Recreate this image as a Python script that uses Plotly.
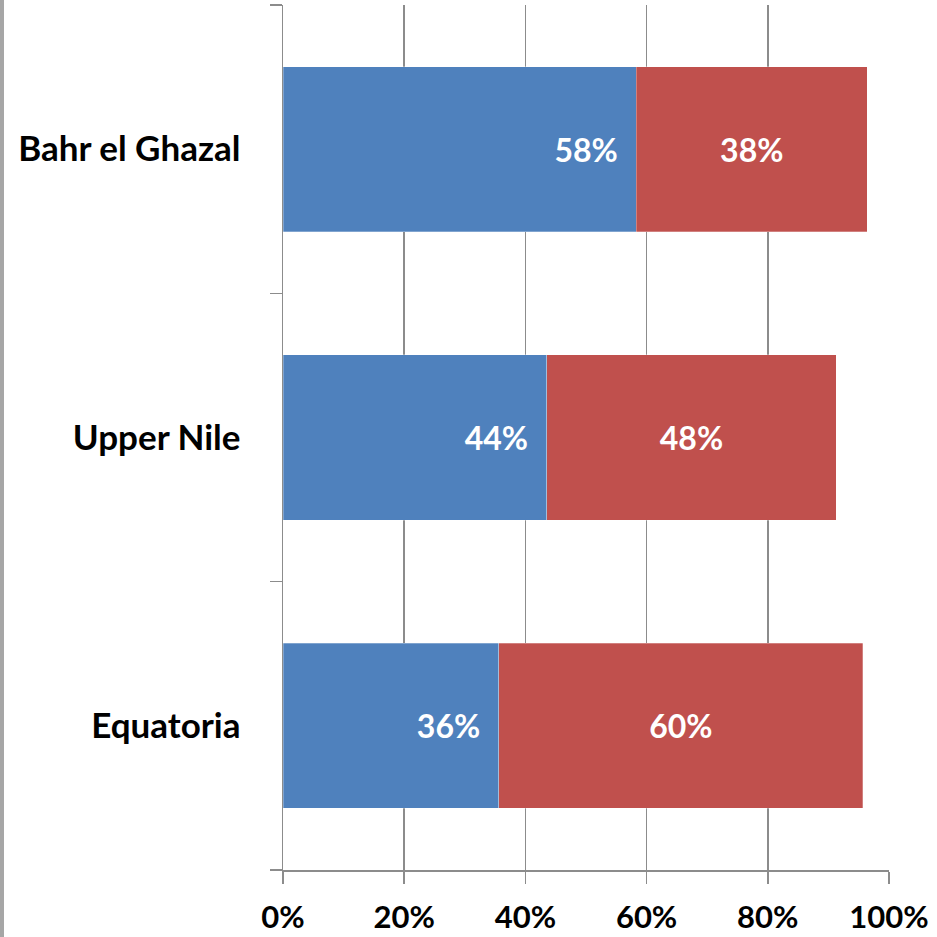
import plotly.graph_objects as go

categories = ["Equatoria", "Upper Nile", "Bahr el Ghazal"]  # bottom to top
blue_values = [0.356, 0.435, 0.583]
red_values = [0.601, 0.478, 0.381]
blue_labels = ["36%", "44%", "58%"]
red_labels = ["60%", "48%", "38%"]
x_tickvals = [0, 0.2, 0.4, 0.6, 0.8, 1.0]
x_ticktext = ["0%", "20%", "40%", "60%", "80%", "100%"]

BLUE = "#4F81BD"
RED = "#C0504D"
GRID = "#8c8c8c"
FONT = "Lato"

W, H = 937, 937
ML, MR, MT, MB = 283, 48, 5, 67

fig = go.Figure()
fig.add_trace(go.Bar(
    y=categories, x=blue_values, orientation="h",
    marker=dict(color=BLUE, line=dict(color="rgba(255,255,255,0.35)", width=0.8)),
    text=[t + "\u00a0\u00a0" for t in blue_labels],
    textposition="inside", insidetextanchor="end", textangle=0,
    constraintext="none",
    insidetextfont=dict(family=FONT, size=32, color="white", weight="bold"),
    showlegend=False, hoverinfo="skip",
))
fig.add_trace(go.Bar(
    y=categories, x=red_values, orientation="h",
    marker=dict(color=RED, line=dict(color="rgba(255,255,255,0.35)", width=0.8)),
    text=red_labels,
    textposition="inside", insidetextanchor="middle", textangle=0,
    constraintext="none",
    insidetextfont=dict(family=FONT, size=32, color="white", weight="bold"),
    showlegend=False, hoverinfo="skip",
))

fig.update_layout(
    barmode="stack",
    bargap=0.427,
    width=W, height=H,
    margin=dict(l=ML, r=MR, t=MT, b=MB, pad=0, autoexpand=False),
    paper_bgcolor="white", plot_bgcolor="white",
    font=dict(family=FONT, size=32, color="black", weight="bold"),
    xaxis=dict(
        range=[0, 1.0], tickvals=x_tickvals, ticktext=x_ticktext,
        showgrid=True, gridcolor=GRID, gridwidth=1.5,
        showline=True, linecolor=GRID, linewidth=1.5,
        ticks="outside", ticklen=12, tickcolor=GRID, tickwidth=1.5,
        zeroline=False, ticklabelstandoff=7, automargin=False,
        tickfont=dict(family=FONT, size=31, color="black", weight="bold"),
        fixedrange=True,
    ),
    yaxis=dict(
        type="category", categoryorder="array", categoryarray=categories,
        range=[-0.5, 2.5], tickson="boundaries",
        showgrid=False, zeroline=False,
        showline=True, linecolor=GRID, linewidth=1.5,
        ticks="outside", ticklen=12, tickcolor=GRID, tickwidth=1.5,
        ticklabelstandoff=34, automargin=False,
        tickfont=dict(family=FONT, size=35, color="black", weight="bold"),
        fixedrange=True,
    ),
    shapes=[dict(
        type="rect", xref="paper", yref="paper",
        x0=-ML / (W - ML - MR), x1=-(ML - 4) / (W - ML - MR),
        y0=-MB / (H - MT - MB), y1=1 + MT / (H - MT - MB),
        fillcolor="#a6a6a6", line=dict(width=0), layer="above",
    )],
)

fig.write_html(
    "out.html",
    config={"displayModeBar": False, "staticPlot": True},
    post_script="document.body.style.margin='0';document.body.style.overflow='hidden';",
)
